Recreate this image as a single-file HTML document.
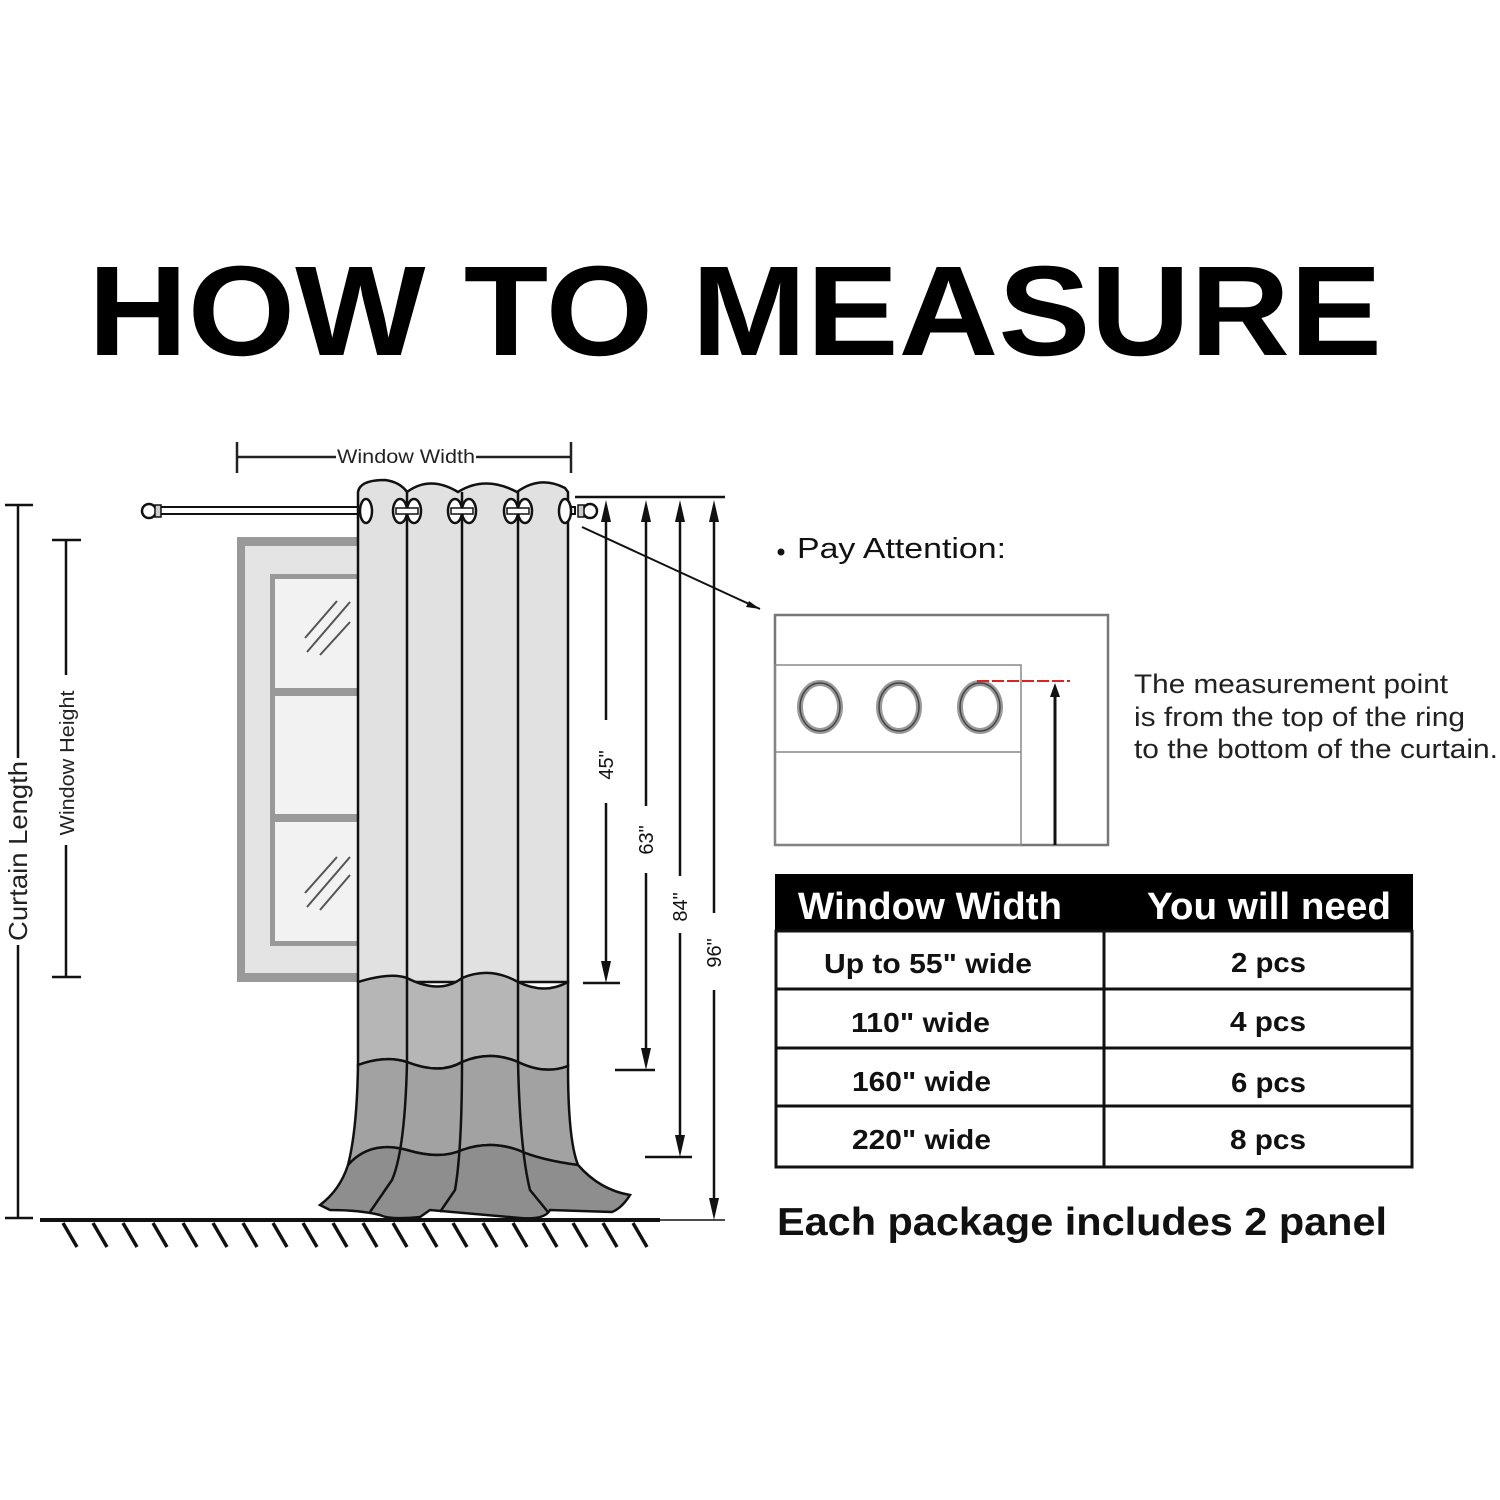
<!DOCTYPE html>
<html><head><meta charset="utf-8"><style>
html,body{margin:0;padding:0;background:#fff;}
svg{display:block;}
text{font-family:"Liberation Sans",sans-serif;}
</style></head><body>
<svg width="1500" height="1500" viewBox="0 0 1500 1500" xmlns="http://www.w3.org/2000/svg">
<text x="88" y="355" font-size="128" font-weight="bold" textLength="1294" lengthAdjust="spacingAndGlyphs">HOW TO MEASURE</text>

<!-- window width dim -->
<g stroke="#222" stroke-width="2.5">
<line x1="237" y1="442" x2="237" y2="473"/><line x1="571" y1="442" x2="571" y2="473"/>
<line x1="237" y1="457" x2="336" y2="457"/><line x1="476" y1="457" x2="571" y2="457"/>
</g>
<text x="406" y="463" font-size="19" text-anchor="middle" fill="#222" textLength="138" lengthAdjust="spacingAndGlyphs">Window Width</text>

<!-- window -->
<rect x="237" y="537" width="125" height="445" fill="#999"/>
<rect x="245" y="546" width="117" height="427" fill="#e4e4e4"/>
<rect x="270" y="574" width="92" height="372" fill="#999"/>
<rect x="275" y="579" width="87" height="362" fill="#f2f2f2"/>
<rect x="275" y="688" width="87" height="8" fill="#999"/>
<rect x="275" y="814" width="87" height="8" fill="#999"/>
<g stroke="#555" stroke-width="2">
<line x1="305" y1="638" x2="337" y2="601"/><line x1="307" y1="652" x2="350" y2="602"/><line x1="320" y1="655" x2="350" y2="622"/>
<line x1="305" y1="893" x2="337" y2="857"/><line x1="307" y1="907" x2="350" y2="857"/><line x1="320" y1="910" x2="350" y2="875"/>
</g>

<!-- rod -->
<rect x="155" y="507" width="420" height="7" fill="#fff" stroke="#111" stroke-width="2"/>
<circle cx="149" cy="511" r="7" fill="#fff" stroke="#111" stroke-width="2.5"/>
<rect x="155" y="505" width="6" height="12" fill="#ccc" stroke="#111" stroke-width="1.5"/>
<circle cx="590" cy="511" r="7" fill="#fff" stroke="#111" stroke-width="2.5"/>
<rect x="578" y="505" width="6" height="12" fill="#ccc" stroke="#111" stroke-width="1.5"/>

<!-- curtain -->
<path d="M358,982 L358,492 Q360,480 385,480 Q400,482 407,492 Q430,475 458,492 Q485,475 517,492 Q540,475 565,488 L568,492 L568,982 Z" fill="#e1e1e1" stroke="#111" stroke-width="2.5"/>
<path d="M358,982 Q390,972 407,978 Q440,995 462,978 Q490,966 518,982 Q545,995 568,982 L568,1066 Q545,1075 518,1062 Q490,1050 462,1062 Q440,1075 407,1062 Q385,1055 358,1065 Z" fill="#b6b6b6" stroke="#111" stroke-width="2.5"/>
<path d="M358,1065 Q385,1055 407,1062 Q440,1075 462,1062 Q490,1050 518,1062 Q545,1075 568,1066 Q568,1140 578,1165 Q540,1160 518,1150 Q490,1140 462,1150 Q440,1160 407,1150 Q370,1140 348,1165 Q357,1130 358,1065 Z" fill="#a2a2a2" stroke="#111" stroke-width="2.5"/>
<path d="M348,1165 Q370,1140 407,1150 Q440,1160 462,1150 Q490,1140 518,1150 Q540,1160 578,1165 Q600,1190 630,1195 Q622,1208 612,1212 L550,1210 Q545,1220 520,1218 L430,1210 L420,1217 Q390,1220 380,1215 Q360,1210 330,1210 L320,1205 Q340,1190 348,1165 Z" fill="#8e8e8e" stroke="#111" stroke-width="2.5"/>
<g stroke="#111" stroke-width="2.5" fill="none">
<path d="M407,492 L407,1062 Q405,1150 392,1180 L370,1212"/>
<path d="M462,492 L462,1062 Q462,1150 455,1190 L440,1212"/>
<path d="M518,492 L518,1062 Q520,1150 530,1190 L548,1212"/>
</g>
<!-- grommets -->
<g fill="#fff" stroke="#111" stroke-width="2.5">
<ellipse cx="366" cy="511" rx="6" ry="12"/>
<ellipse cx="400" cy="511" rx="7" ry="12"/><ellipse cx="414" cy="511" rx="7" ry="12"/>
<ellipse cx="455" cy="511" rx="7" ry="12"/><ellipse cx="469" cy="511" rx="7" ry="12"/>
<ellipse cx="511" cy="511" rx="7" ry="12"/><ellipse cx="525" cy="511" rx="7" ry="12"/>
<ellipse cx="565" cy="511" rx="6" ry="12"/>
</g>
<g fill="#fff" stroke="#111" stroke-width="1.5">
<rect x="396" y="508" width="22" height="6"/><rect x="451" y="508" width="22" height="6"/><rect x="507" y="508" width="22" height="6"/>
</g>

<!-- left dims -->
<g stroke="#111" stroke-width="2.5">
<line x1="5" y1="505" x2="33" y2="505"/><line x1="18" y1="505" x2="18" y2="758"/>
<line x1="18" y1="945" x2="18" y2="1218"/><line x1="5" y1="1218" x2="33" y2="1218"/>
<line x1="52" y1="540" x2="81" y2="540"/><line x1="66" y1="540" x2="66" y2="675"/>
<line x1="66" y1="845" x2="66" y2="977"/><line x1="52" y1="977" x2="81" y2="977"/>
</g>
<text transform="translate(27,851) rotate(-90)" font-size="26" text-anchor="middle" fill="#222" textLength="180" lengthAdjust="spacingAndGlyphs">Curtain Length</text>
<text transform="translate(74,763) rotate(-90)" font-size="20" text-anchor="middle" fill="#222" textLength="145" lengthAdjust="spacingAndGlyphs">Window Height</text>

<!-- right dims -->
<g stroke="#111" stroke-width="2.5">
<line x1="575" y1="497" x2="725" y2="497"/>
<line x1="606" y1="510" x2="606" y2="720"/>
<line x1="606" y1="803" x2="606" y2="970"/>
<line x1="583" y1="983" x2="620" y2="983"/>
<line x1="646" y1="510" x2="646" y2="806"/>
<line x1="646" y1="873" x2="646" y2="1057"/>
<line x1="615" y1="1070" x2="655" y2="1070"/>
<line x1="680" y1="510" x2="680" y2="876"/>
<line x1="680" y1="933" x2="680" y2="1144"/>
<line x1="645" y1="1157" x2="692" y2="1157"/>
<line x1="714" y1="510" x2="714" y2="913"/>
<line x1="714" y1="990" x2="714" y2="1207"/>
<line x1="660" y1="1220" x2="725" y2="1220" stroke-width="1.5"/>
</g>
<g fill="#111">
<path d="M606,500 L601,522 L611,522 Z"/><path d="M646,500 L641,522 L651,522 Z"/><path d="M680,500 L675,522 L685,522 Z"/><path d="M714,500 L709,522 L719,522 Z"/>
<path d="M606,983 L601,961 L611,961 Z"/><path d="M646,1070 L641,1048 L651,1048 Z"/><path d="M680,1157 L675,1135 L685,1135 Z"/><path d="M714,1220 L709,1198 L719,1198 Z"/>
</g>
<g font-size="20" text-anchor="middle" fill="#111">
<text transform="translate(613,765) rotate(-90)">45"</text>
<text transform="translate(653,840) rotate(-90)">63"</text>
<text transform="translate(687,907) rotate(-90)">84"</text>
<text transform="translate(721,953) rotate(-90)">96"</text>
</g>

<!-- floor -->
<line x1="40" y1="1220" x2="660" y2="1220" stroke="#111" stroke-width="4"/>
<g stroke="#111" stroke-width="3.5">
<line x1="63" y1="1223" x2="77" y2="1247"/><line x1="93" y1="1223" x2="107" y2="1247"/><line x1="123" y1="1223" x2="137" y2="1247"/><line x1="153" y1="1223" x2="167" y2="1247"/><line x1="183" y1="1223" x2="197" y2="1247"/><line x1="213" y1="1223" x2="227" y2="1247"/><line x1="243" y1="1223" x2="257" y2="1247"/><line x1="273" y1="1223" x2="287" y2="1247"/><line x1="303" y1="1223" x2="317" y2="1247"/><line x1="333" y1="1223" x2="347" y2="1247"/><line x1="363" y1="1223" x2="377" y2="1247"/><line x1="393" y1="1223" x2="407" y2="1247"/><line x1="423" y1="1223" x2="437" y2="1247"/><line x1="453" y1="1223" x2="467" y2="1247"/><line x1="483" y1="1223" x2="497" y2="1247"/><line x1="513" y1="1223" x2="527" y2="1247"/><line x1="543" y1="1223" x2="557" y2="1247"/><line x1="573" y1="1223" x2="587" y2="1247"/><line x1="603" y1="1223" x2="617" y2="1247"/><line x1="633" y1="1223" x2="647" y2="1247"/>
</g>

<!-- pointer -->
<line x1="582" y1="527" x2="760" y2="609" stroke="#111" stroke-width="2"/>
<path d="M760,609 L749,601 L746,607 Z" fill="#111"/>

<circle cx="781" cy="552" r="3.5" fill="#111"/>
<text x="797" y="558" font-size="29" fill="#111" textLength="209" lengthAdjust="spacingAndGlyphs">Pay Attention:</text>

<!-- detail box -->
<rect x="775" y="615" width="333" height="230" fill="#fff" stroke="#777" stroke-width="2.5"/>
<rect x="775" y="665" width="246" height="180" fill="none" stroke="#888" stroke-width="1.5"/>
<line x1="775" y1="752" x2="1021" y2="752" stroke="#888" stroke-width="1.5"/>
<g fill="none">
<ellipse cx="820" cy="707" rx="20" ry="24" stroke="#999" stroke-width="6"/>
<ellipse cx="820" cy="707" rx="20" ry="24" stroke="#444" stroke-width="1.5"/>
<ellipse cx="899" cy="707" rx="20" ry="24" stroke="#999" stroke-width="6"/>
<ellipse cx="899" cy="707" rx="20" ry="24" stroke="#444" stroke-width="1.5"/>
<ellipse cx="980" cy="707" rx="20" ry="24" stroke="#999" stroke-width="6"/>
<ellipse cx="980" cy="707" rx="20" ry="24" stroke="#444" stroke-width="1.5"/>
</g>
<line x1="977" y1="681" x2="1070" y2="681" stroke="#d22" stroke-width="2" stroke-dasharray="12,3"/>
<line x1="1055" y1="845" x2="1055" y2="695" stroke="#111" stroke-width="3"/>
<path d="M1055,683 L1050,697 L1060,697 Z" fill="#111"/>

<g font-size="27" fill="#222">
<text x="1134" y="693" textLength="314" lengthAdjust="spacingAndGlyphs">The measurement point</text>
<text x="1134" y="726" textLength="331" lengthAdjust="spacingAndGlyphs">is from the top of the ring</text>
<text x="1134" y="758" textLength="364" lengthAdjust="spacingAndGlyphs">to the bottom of the curtain.</text>
</g>

<!-- table -->
<rect x="775" y="874" width="638" height="57" fill="#000"/>
<rect x="776" y="931" width="636" height="236" fill="#fff" stroke="#111" stroke-width="3"/>
<g stroke="#111" stroke-width="3">
<line x1="1104" y1="931" x2="1104" y2="1167"/>
<line x1="776" y1="989" x2="1412" y2="989"/>
<line x1="776" y1="1048" x2="1412" y2="1048"/>
<line x1="776" y1="1106" x2="1412" y2="1106"/>
</g>
<g font-weight="bold" fill="#fff" font-size="38">
<text x="798" y="919" textLength="264" lengthAdjust="spacingAndGlyphs">Window Width</text>
<text x="1147" y="919" textLength="244" lengthAdjust="spacingAndGlyphs">You will need</text>
</g>
<g font-weight="bold" fill="#111" font-size="28">
<text x="824" y="973" textLength="208" lengthAdjust="spacingAndGlyphs">Up to 55" wide</text>
<text x="851" y="1032" textLength="139" lengthAdjust="spacingAndGlyphs">110" wide</text>
<text x="852" y="1091" textLength="139" lengthAdjust="spacingAndGlyphs">160" wide</text>
<text x="852" y="1149" textLength="139" lengthAdjust="spacingAndGlyphs">220" wide</text>
<text x="1231" y="972" textLength="75" lengthAdjust="spacingAndGlyphs">2 pcs</text>
<text x="1230" y="1031" textLength="76" lengthAdjust="spacingAndGlyphs">4 pcs</text>
<text x="1231" y="1092" textLength="75" lengthAdjust="spacingAndGlyphs">6 pcs</text>
<text x="1230" y="1149" textLength="76" lengthAdjust="spacingAndGlyphs">8 pcs</text>
</g>
<text x="777" y="1235" font-size="39" font-weight="bold" fill="#111" textLength="610" lengthAdjust="spacingAndGlyphs">Each package includes 2 panel</text>
</svg>
</body></html>
